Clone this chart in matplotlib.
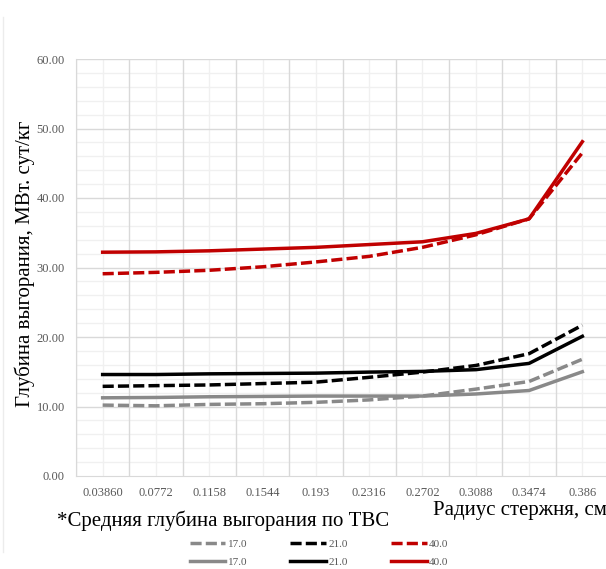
import numpy as np
import matplotlib
matplotlib.use('Agg')
import matplotlib.pyplot as plt
from matplotlib.ticker import MultipleLocator


radius = ['0.03860', '0.0772', '0.1158', '0.1544', '0.193',
          '0.2316', '0.2702', '0.3088', '0.3474', '0.386']

# средняя глубина выгорания по ТВС, штрих
dash_17 = [10.2, 10.1, 10.3, 10.4, 10.6, 10.95, 11.5, 12.5, 13.6, 16.8]
dash_21 = [12.9, 13.0, 13.1, 13.3, 13.5, 14.2, 14.95, 15.9, 17.6, 21.7]
dash_40 = [29.1, 29.3, 29.6, 30.1, 30.8, 31.6, 32.9, 34.7, 37.0, 46.5]
# сплошные линии
solid_17 = [11.25, 11.3, 11.4, 11.45, 11.5, 11.5, 11.5, 11.8, 12.3, 15.0]
solid_21 = [14.6, 14.6, 14.7, 14.75, 14.8, 14.95, 15.05, 15.3, 16.2, 20.1]
solid_40 = [32.2, 32.25, 32.4, 32.65, 32.9, 33.3, 33.7, 34.9, 37.0, 48.1]

labels = ['17.0', '21.0', '40.0']


def main():
    plt.rcParams['font.family'] = ['Liberation Serif', 'DejaVu Serif']

    fig = plt.figure(figsize=(6.06, 5.69), dpi=100)
    ax = fig.add_axes([76 / 606, 93 / 569, 533 / 606, 417 / 569])

    x = np.arange(len(radius))
    gray, black, red = '#898989', '#000000', '#c00000'
    lw = 2.5
    dash = (3.2, 1.2)

    handles = []
    for d, s, c, lab in zip([dash_17, dash_21, dash_40],
                            [solid_17, solid_21, solid_40],
                            [gray, black, red], labels):
        h1, = ax.plot(x, d, color=c, lw=lw, dashes=dash, label=lab,
                      solid_capstyle='butt', dash_capstyle='butt', zorder=3)
        h2, = ax.plot(x, s, color=c, lw=lw, label=lab, zorder=3,
                      solid_joinstyle='round')
        handles += [h1, h2]

    ax.set_xlim(-0.5, len(radius) - 0.5)
    ax.set_ylim(0, 60)
    ax.set_xticks(x)
    ax.set_xticklabels(radius)
    ax.yaxis.set_major_locator(MultipleLocator(10))
    ax.yaxis.set_major_formatter(plt.FormatStrFormatter('%.2f'))

    # вертикальные линии сетки: границы категорий темнее, центры светлее
    ax.grid(False)
    for xb in np.arange(-0.5, len(radius), 1.0):
        ax.axvline(xb, color='#d9d9d9', lw=1, zorder=1)
    for xc in x:
        ax.axvline(xc, color='#f0f0f0', lw=1, zorder=0.5)
    for yv in np.arange(2, 60, 2):
        if yv % 10:
            ax.axhline(yv, color='#f0f0f0', lw=1, zorder=0.5)
        else:
            ax.axhline(yv, color='#d9d9d9', lw=1, zorder=1)
    ax.axhline(60, color='#d9d9d9', lw=1, zorder=1)

    for side in ['top', 'right']:
        ax.spines[side].set_visible(False)
    for side in ['left', 'bottom']:
        ax.spines[side].set_color('#d9d9d9')
    ax.tick_params(which='both', length=0)
    ax.tick_params(axis='x', pad=8, labelsize=9, labelcolor='#595959')
    ax.tick_params(axis='y', pad=8, labelsize=9, labelcolor='#595959')

    # тонкая рамка области диаграммы слева
    fig.add_artist(plt.Line2D([3 / 606, 3 / 606], [0.03, 0.97],
                              color='#ececec', lw=1))

    fig.text(25 / 606, 1 - 264 / 569, 'Глубина выгорания, МВт. сут/кг',
             fontsize=15, rotation=90, ha='center', va='center')
    fig.text(433 / 606, 1 - 510 / 569, 'Радиус стержня, см', fontsize=15,
             ha='left', va='center')
    fig.text(57 / 606, 1 - 521 / 569, '*Средняя глубина выгорания по ТВС',
             fontsize=15, ha='left', va='center')

    leg = fig.legend(handles=handles, labels=[labels[i // 2] for i in range(6)],
                     ncol=3, loc='center', bbox_to_anchor=(319 / 606, 1 - 553 / 569),
                     frameon=False, fontsize=8, handlelength=3.2,
                     columnspacing=3.9, labelspacing=0.8, handletextpad=0.2,
                     borderpad=0)
    for t in leg.get_texts():
        t.set_color('#595959')

    fig.savefig('out.png', dpi=100)


if __name__ == '__main__':
    main()
